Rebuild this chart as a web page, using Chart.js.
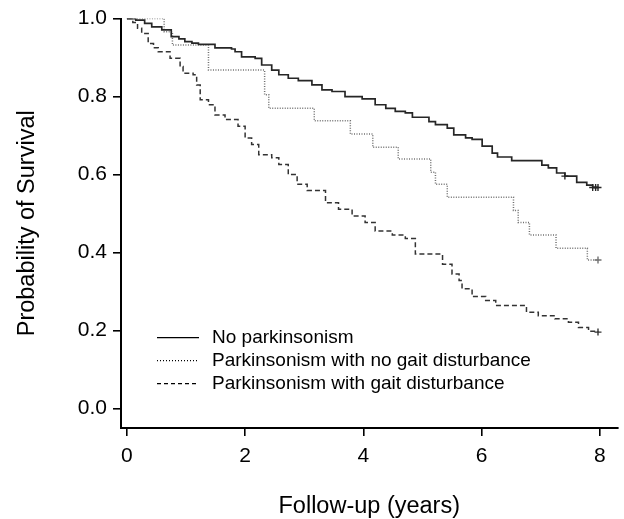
<!DOCTYPE html>
<html><head><meta charset="utf-8">
<script src="https://cdn.jsdelivr.net/npm/chart.js@4.4.1/dist/chart.umd.min.js"></script>
<style>html,body{margin:0;padding:0;background:#fff;} canvas{display:block;}</style>
</head><body>
<canvas id="c" width="624" height="519"></canvas>
<script>
// ---- data ----
const seriesLabels = [
  "No parkinsonism",
  "Parkinsonism with no gait disturbance",
  "Parkinsonism with gait disturbance"
];
const noParkTimes = [0, 0.15, 0.30, 0.42, 0.59, 0.75, 0.88, 0.98, 1.10, 1.21, 1.49, 1.77, 1.83, 1.94, 2.17, 2.28, 2.45, 2.57, 2.73, 2.90, 3.13, 3.30, 3.47, 3.69, 3.98, 4.20, 4.38, 4.54, 4.71, 4.83, 5.11, 5.22, 5.42, 5.53, 5.73, 5.84, 6.01, 6.18, 6.27, 6.51, 7.02, 7.13, 7.27, 7.41, 7.61, 7.78, 7.88, 7.97];
const noParkSurv  = [1.0, 0.996, 0.988, 0.979, 0.971, 0.954, 0.948, 0.941, 0.937, 0.934, 0.925, 0.922, 0.915, 0.902, 0.898, 0.881, 0.868, 0.856, 0.847, 0.841, 0.830, 0.817, 0.813, 0.800, 0.794, 0.779, 0.770, 0.762, 0.758, 0.747, 0.736, 0.728, 0.719, 0.702, 0.694, 0.690, 0.673, 0.655, 0.645, 0.636, 0.624, 0.617, 0.604, 0.596, 0.580, 0.573, 0.567, 0.567];
const noGaitTimes = [0, 0.63, 0.77, 1.38, 2.33, 2.40, 3.17, 3.78, 4.16, 4.59, 5.14, 5.22, 5.42, 6.54, 6.62, 6.81, 7.26, 7.79, 7.97];
const noGaitSurv  = [1.0, 0.966, 0.932, 0.868, 0.805, 0.770, 0.738, 0.704, 0.670, 0.640, 0.606, 0.575, 0.542, 0.508, 0.477, 0.445, 0.411, 0.381, 0.381];
const gaitTimes = [0, 0.10, 0.18, 0.25, 0.36, 0.45, 0.53, 0.73, 0.90, 0.95, 1.12, 1.18, 1.24, 1.38, 1.49, 1.66, 1.88, 2.0, 2.11, 2.23, 2.45, 2.57, 2.73, 2.88, 3.05, 3.36, 3.58, 3.81, 4.03, 4.20, 4.49, 4.71, 4.88, 5.34, 5.50, 5.62, 5.67, 5.84, 6.07, 6.24, 6.76, 6.96, 7.24, 7.47, 7.64, 7.81, 7.97];
const gaitSurv  = [1.0, 0.99, 0.975, 0.962, 0.936, 0.925, 0.915, 0.898, 0.877, 0.860, 0.856, 0.830, 0.792, 0.779, 0.753, 0.741, 0.724, 0.694, 0.677, 0.651, 0.643, 0.626, 0.600, 0.575, 0.559, 0.528, 0.511, 0.494, 0.477, 0.455, 0.445, 0.436, 0.396, 0.370, 0.345, 0.328, 0.307, 0.287, 0.277, 0.264, 0.247, 0.238, 0.230, 0.221, 0.208, 0.198, 0.196];
// censoring marks (+)
const noParkCensorTimes = [7.41, 7.88, 7.93, 7.97];
const noParkCensorSurv  = [0.596, 0.567, 0.567, 0.567];
const noGaitCensorTimes = [7.97];
const noGaitCensorSurv  = [0.381];
const gaitCensorTimes = [7.97];
const gaitCensorSurv  = [0.196];

const xTickValues = [0, 2, 4, 6, 8];
const yTickValues = [0.0, 0.2, 0.4, 0.6, 0.8, 1.0];
const xTitle = "Follow-up (years)";
const yTitle = "Probability of Survival";

// ---- build ----
const FONT = '"Liberation Sans", Arial, Helvetica, sans-serif';
const pts = (t, v) => t.map((x, i) => ({x: x, y: v[i]}));
const styles = [
  {color: '#262626', dash: [], width: 1.7},
  {color: '#707070', dash: [1, 1.5], width: 1.5},
  {color: '#333333', dash: [5, 3], width: 1.5}
];
const lineSets = [[noParkTimes, noParkSurv], [noGaitTimes, noGaitSurv], [gaitTimes, gaitSurv]];
const censorSets = [[noParkCensorTimes, noParkCensorSurv], [noGaitCensorTimes, noGaitCensorSurv], [gaitCensorTimes, gaitCensorSurv]];

const datasets = [];
lineSets.forEach((s, i) => datasets.push({
  type: 'line', label: seriesLabels[i], data: pts(s[0], s[1]),
  stepped: 'before', borderColor: styles[i].color, borderDash: styles[i].dash,
  borderWidth: styles[i].width, pointRadius: 0, fill: false, tension: 0
}));
censorSets.forEach((s, i) => datasets.push({
  type: 'scatter', label: seriesLabels[i] + ' (censored)', censor: true, data: pts(s[0], s[1]),
  pointStyle: 'cross', pointRadius: 3.5, borderColor: styles[i].color, borderWidth: 1.4,
  backgroundColor: styles[i].color
}));

const insetLegend = {
  id: 'insetLegend',
  afterDatasetsDraw(chart) {
    const ctx = chart.ctx, a = chart.chartArea;
    const items = chart.data.datasets.filter(d => !d.censor);
    ctx.save();
    ctx.font = '19px ' + FONT;
    ctx.textBaseline = 'middle';
    ctx.textAlign = 'left';
    items.forEach((d, i) => {
      const y = a.top + 319 + i * 23;
      ctx.beginPath();
      ctx.setLineDash(i === 0 ? [] : (i === 1 ? [1, 2] : [4, 3]));
      ctx.strokeStyle = '#000';
      ctx.lineWidth = 1.2;
      ctx.moveTo(a.left + 36, y);
      ctx.lineTo(a.left + 78, y);
      ctx.stroke();
      ctx.setLineDash([]);
      ctx.fillStyle = '#000';
      ctx.fillText(d.label, a.left + 91, y);
    });
    ctx.restore();
  }
};

new Chart(document.getElementById('c'), {
  data: {datasets},
  options: {
    responsive: false,
    animation: false,
    layout: {padding: {left: 0, top: 17, right: 6.5, bottom: 0}},
    plugins: {legend: {display: false}, tooltip: {enabled: false}},
    scales: {
      x: {
        type: 'linear', min: -0.1, max: 8.3,
        afterBuildTicks: s => { s.ticks = xTickValues.map(v => ({value: v})); },
        afterFit: s => { s.height = 91; },
        ticks: {color: '#000', font: {family: FONT, size: 21}, padding: 8,
                callback: v => String(v), maxRotation: 0, autoSkip: false},
        grid: {drawOnChartArea: false, drawTicks: true, tickLength: 8, color: '#000', lineWidth: 1.6},
        border: {display: true, color: '#000', width: 2},
        title: {display: true, text: xTitle, color: '#000',
                font: {family: FONT, size: 23.5, lineHeight: 1}, padding: {top: 0, bottom: 1}}
      },
      y: {
        type: 'linear', min: -0.05, max: 1.0,
        afterBuildTicks: s => { s.ticks = yTickValues.map(v => ({value: v})); },
        afterFit: s => { s.width = 121; },
        ticks: {color: '#000', font: {family: FONT, size: 21}, padding: 6,
                callback: v => Number(v).toFixed(1), autoSkip: false},
        grid: {drawOnChartArea: false, drawTicks: true, tickLength: 8, color: '#000', lineWidth: 1.6},
        border: {display: true, color: '#000', width: 2},
        title: {display: true, text: yTitle, color: '#000',
                font: {family: FONT, size: 23.5, lineHeight: 1}, padding: {top: 16, bottom: 0}}
      }
    }
  },
  plugins: [insetLegend]
});
</script>
</body></html>
